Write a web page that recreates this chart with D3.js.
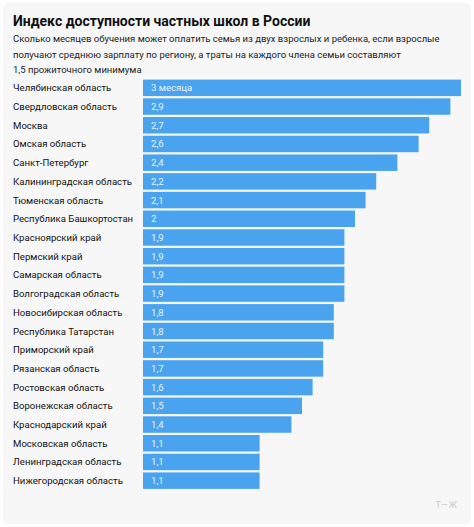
<!DOCTYPE html>
<html><head><meta charset="utf-8">
<script src="https://cdn.jsdelivr.net/npm/d3@7"></script>
<style>body{margin:0;background:#fff;font-family:Roboto,"Noto Sans",sans-serif}</style>
</head><body><div id="chart"></div>
<script>
var regions = ["Челябинская область","Свердловская область","Москва","Омская область","Санкт-Петербург","Калининградская область","Тюменская область","Республика Башкортостан","Красноярский край","Пермский край","Самарская область","Волгоградская область","Новосибирская область","Республика Татарстан","Приморский край","Рязанская область","Ростовская область","Воронежская область","Краснодарский край","Московская область","Ленинградская область","Нижегородская область"];
var values = [3,2.9,2.7,2.6,2.4,2.2,2.1,2,1.9,1.9,1.9,1.9,1.8,1.8,1.7,1.7,1.6,1.5,1.4,1.1,1.1,1.1];

var W = 474, H = 527;
var svg = d3.select("#chart").append("svg").attr("width", W).attr("height", H);
svg.append("rect").attr("x",3).attr("y",3).attr("width",W-6).attr("height",H-6).attr("rx",6).attr("fill","#f7f7f7");

svg.append("text").attr("x",13).attr("y",26).attr("font-size",14).attr("font-weight",700).attr("fill","#111")
  .text("Индекс доступности частных школ в России");
var sub = ["Сколько месяцев обучения может оплатить семья из двух взрослых и ребенка, если взрослые","получают среднюю зарплату по региону, а траты на каждого члена семьи составляют","1,5 прожиточного минимума"];
sub.forEach(function(s,i){
  svg.append("text").attr("x",13).attr("y",42+i*15.5).attr("font-size",9.5).attr("fill","#222").text(s);
});

var x = d3.scaleLinear().domain([0,3]).range([143,461]);
var y = d3.scaleBand().domain(regions).range([78.5, 490]).paddingInner(0.12).paddingOuter(0.06);

var row = svg.selectAll("g.row").data(regions).enter().append("g").attr("class","row");
row.append("rect").attr("x",x(0)).attr("y",function(d){return y(d);})
  .attr("width",function(d,i){return x(values[i])-x(0);}).attr("height",y.bandwidth()).attr("fill","#4aa3ef");
row.append("text").attr("x",13).attr("y",function(d){return y(d)+y.bandwidth()/2+3.5;})
  .attr("font-size",9.6).attr("fill","#111").text(function(d){return d;});
row.append("text").attr("x",x(0)+8).attr("y",function(d){return y(d)+y.bandwidth()/2+3.5;})
  .attr("font-size",9.6).attr("fill","#e8f3ff")
  .text(function(d,i){return i===0 ? "3 месяца" : String(values[i]).replace(".",",");});

svg.append("text").attr("x",458).attr("y",508).attr("text-anchor","end").attr("font-size",9).attr("fill","#c8c8c8").attr("letter-spacing",1).text("Т—Ж");
</script></body></html>
